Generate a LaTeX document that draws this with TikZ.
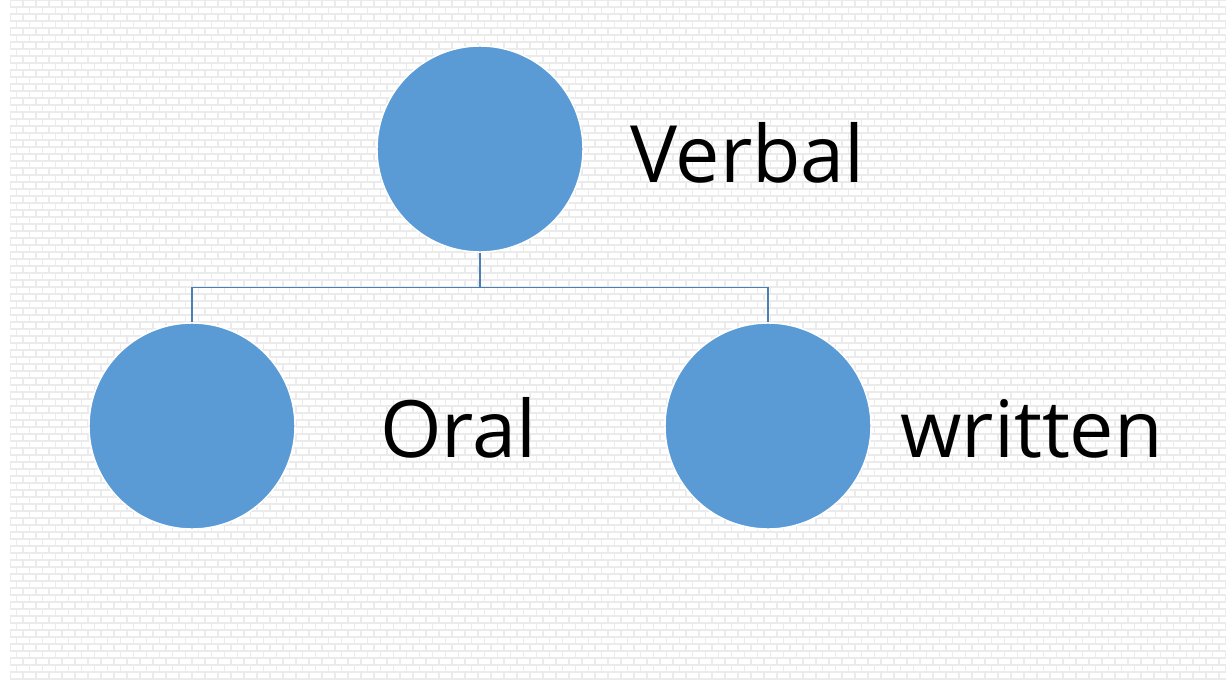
\documentclass[tikz,border=0pt]{standalone}
\usepackage{fontspec}
\setmainfont{Open Sans}
\usetikzlibrary{positioning}
\definecolor{ballblue}{HTML}{5B9BD5}
\definecolor{linkblue}{HTML}{4A7EB4}
\tikzset{
  ball/.style={circle, fill=ballblue, draw=white, line width=0.8pt, minimum size=4.12cm, inner sep=0pt},
  word/.style={anchor=base west, inner sep=0pt, font=\fontsize{45}{52}\selectfont},
  link/.style={draw=linkblue, line width=0.9pt},
  brick/.style={draw=black!8, line width=0.6pt}
}
\begin{document}
\begin{tikzpicture}[x=0.02cm, y=-0.02cm]
  \useasboundingbox (0,0) rectangle (1226,679);
  \fill[white] (0,0) rectangle (1226,679);
  % brick wall
  \begin{scope}
    \clip (10,0) rectangle (1226,679);
    \foreach \r [evaluate=\r as \off using {mod(\r,2)*6.5}] in {0,...,97}
      \draw[brick] (10,\r*7) -- (1226,\r*7)
        \foreach \c in {-1,...,93} {(10+\off+\c*13,\r*7) -- ++(0,7)};
  \end{scope}
  % circles
  \node[ball] (v) at (480,149) {};
  \node[ball] (o) at (192,426) {};
  \node[ball] (w) at (768,426) {};
  % labels
  \node[word] (vt) at (630,182) {Verbal};
  \node[word] (ot) at (380,457) {Oral};
  \node[word] (wt) at (900,457) {written};
  % connectors
  \draw[link] (v.south) -- ++(0,35) coordinate (m);
  \draw[link] (m) -| (o.north);
  \draw[link] (m) -| (w.north);
\end{tikzpicture}
\end{document}
